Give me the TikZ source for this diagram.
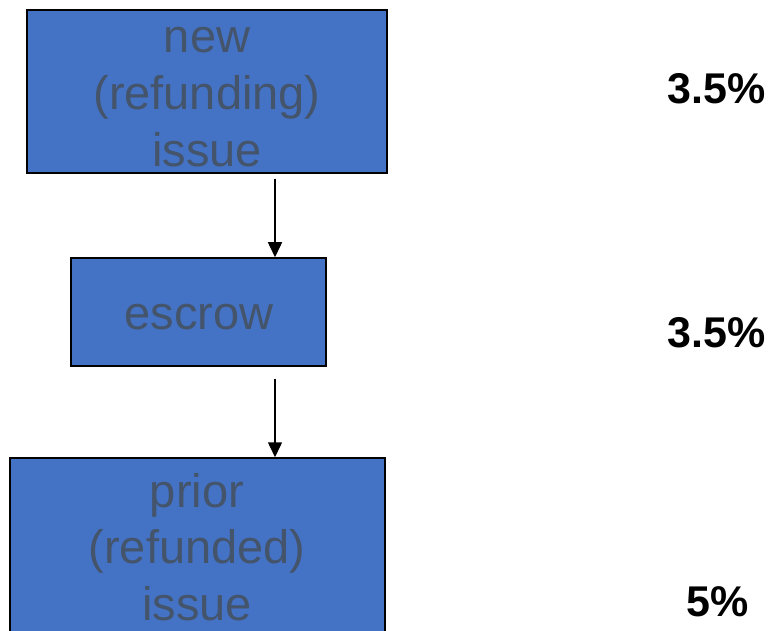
\documentclass[tikz,border=0pt]{standalone}
\usepackage{fontspec}
\setmainfont{Liberation Sans}
\usetikzlibrary{arrows.meta}
\definecolor{boxblue}{HTML}{4472C4}
\definecolor{boxtext}{HTML}{44546A}
\begin{document}
\begin{tikzpicture}[x=1pt,y=-1pt,
  box/.style={draw=black,line width=1.5pt,fill=boxblue,inner sep=0pt},
  btext/.style={anchor=base,inner sep=0pt,text=boxtext,font=\fontsize{47}{56}\selectfont},
  pct/.style={anchor=base,inner sep=0pt,font=\fontsize{43}{50}\selectfont\bfseries},
  arr/.style={line width=1.5pt,-{Triangle[length=15pt,width=14pt]}}]
\useasboundingbox (0,0) rectangle (771,631);
\node[box,minimum width=360pt,minimum height=163pt] (b1) at (207,91.5) {};
\node[box,minimum width=255pt,minimum height=108pt] (b2) at (198.5,312) {};
\node[box,minimum width=375pt,minimum height=190pt] (b3) at (197.5,553) {};
\node[btext] (t11) at (207,53) {new};
\node[btext] (t12) at (207,110) {(refunding)};
\node[btext] (t13) at (207,167) {issue};
\node[btext] (t2) at (199,329) {escrow};
\node[btext] (t31) at (197,507) {prior};
\node[btext] (t32) at (197,563.5) {(refunded)};
\node[btext] (t33) at (197,620) {issue};
\node[pct] (p1) at (716.5,103.5) {3.5\%};
\node[pct] (p2) at (716.5,347) {3.5\%};
\node[pct] (p3) at (718,616.5) {5\%};
\coordinate (ax) at (275,0);
\draw[arr] ([yshift=-5pt]b1.south -| ax) -- (b2.north -| ax);
\draw[arr] ([yshift=-12pt]b2.south -| ax) -- (b3.north -| ax);
\end{tikzpicture}
\end{document}
